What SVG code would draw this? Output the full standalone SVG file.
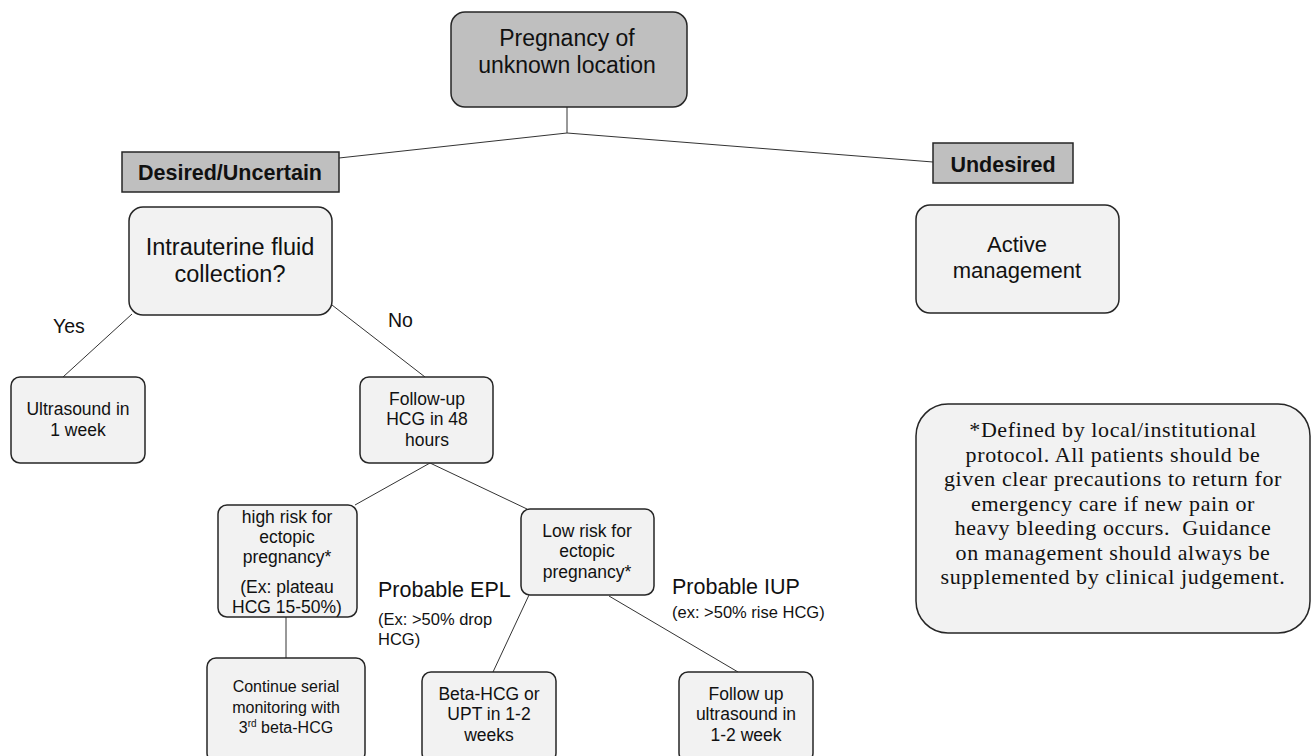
<svg xmlns="http://www.w3.org/2000/svg" width="1312" height="756" viewBox="0 0 1312 756">
<style>
.box{fill:#f2f2f2;stroke:#262626;stroke-width:1.5}
.hdr{fill:#bfbfbf;stroke:#262626;stroke-width:1.5}
.t{font-family:"Liberation Sans",Arial,sans-serif;fill:#111;text-anchor:middle}
.tl{font-family:"Liberation Sans",Arial,sans-serif;fill:#111}
.b{font-weight:bold}
.s{font-size:17.5px}
.n{font-family:"Liberation Serif","Times New Roman",serif;fill:#111;text-anchor:middle;font-size:22px;letter-spacing:0.6px}
.c{stroke:#333;stroke-width:1;fill:none}
</style>
<rect width="1312" height="756" fill="#fff"/>
<g id="connectors">
<line class="c" x1="567" y1="107" x2="567" y2="133"/>
<line class="c" x1="567" y1="133" x2="339" y2="158"/>
<line class="c" x1="567" y1="133" x2="933" y2="162"/>
<line class="c" x1="132" y1="314" x2="63" y2="377"/>
<line class="c" x1="332" y1="305" x2="425" y2="377"/>
<line class="c" x1="430" y1="463" x2="355" y2="505"/>
<line class="c" x1="430" y1="463" x2="527" y2="509"/>
<line class="c" x1="286" y1="617" x2="286" y2="658"/>
<line class="c" x1="529" y1="595" x2="493" y2="672"/>
<line class="c" x1="609" y1="596" x2="738" y2="672"/>
</g>
<g id="pul">
<rect class="hdr" x="451" y="12" width="236" height="95" rx="14"/>
<text class="t" x="567" y="46" font-size="23">Pregnancy of</text>
<text class="t" x="567" y="73" font-size="23">unknown location</text>
</g>
<g id="desired">
<rect class="hdr" x="122" y="152" width="217" height="40"/>
<text class="t b" x="230" y="180" font-size="21.5">Desired/Uncertain</text>
</g>
<g id="undesired">
<rect class="hdr" x="933" y="143" width="140" height="40"/>
<text class="t b" x="1003" y="172" font-size="21.5">Undesired</text>
</g>
<g id="active">
<rect class="box" x="916" y="205" width="203" height="108" rx="14"/>
<text class="t" x="1017" y="252" font-size="22">Active</text>
<text class="t" x="1017" y="278" font-size="22">management</text>
</g>
<g id="fluid">
<rect class="box" x="129" y="207" width="203" height="108" rx="14"/>
<text class="t" x="230" y="255" font-size="23.5">Intrauterine fluid</text>
<text class="t" x="230" y="282" font-size="23.5">collection?</text>
</g>
<text class="tl" x="53" y="333" font-size="19.5">Yes</text>
<text class="tl" x="388" y="327" font-size="19.5">No</text>
<g id="us1">
<rect class="box" x="11" y="377" width="134" height="86" rx="9"/>
<text class="t s" x="78" y="415">Ultrasound in</text>
<text class="t s" x="78" y="436">1 week</text>
</g>
<g id="followup">
<rect class="box" x="360" y="377" width="133" height="86" rx="9"/>
<text class="t s" x="427" y="405">Follow-up</text>
<text class="t s" x="427" y="425">HCG in 48</text>
<text class="t s" x="427" y="446">hours</text>
</g>
<g id="highrisk">
<rect class="box" x="218" y="505" width="139" height="112" rx="9"/>
<text class="t s" x="287" y="523">high risk for</text>
<text class="t s" x="287" y="543">ectopic</text>
<text class="t s" x="287" y="563">pregnancy*</text>
<text class="t s" x="287" y="593">(Ex: plateau</text>
<text class="t s" x="287" y="613">HCG 15-50%)</text>
</g>
<g id="lowrisk">
<rect class="box" x="521" y="509" width="133" height="86" rx="9"/>
<text class="t s" x="587" y="537">Low risk for</text>
<text class="t s" x="587" y="557">ectopic</text>
<text class="t s" x="587" y="578">pregnancy*</text>
</g>
<g id="epl">
<text class="tl" x="378" y="597" font-size="21.5">Probable EPL</text>
<text class="tl" x="378" y="625" font-size="16.5">(Ex: &gt;50% drop</text>
<text class="tl" x="378" y="645" font-size="16.5">HCG)</text>
</g>
<g id="iup">
<text class="tl" x="672" y="594" font-size="21.5">Probable IUP</text>
<text class="tl" x="672" y="618" font-size="16.5">(ex: &gt;50% rise HCG)</text>
</g>
<g id="continue">
<rect class="box" x="207" y="658" width="158" height="104" rx="9"/>
<text class="t" x="286" y="692" font-size="16">Continue serial</text>
<text class="t" x="286" y="713" font-size="16">monitoring with</text>
<text class="t" x="286" y="733" font-size="16">3<tspan font-size="10" dy="-6">rd</tspan><tspan dy="6"> beta-HCG</tspan></text>
</g>
<g id="beta">
<rect class="box" x="422" y="672" width="134" height="90" rx="9"/>
<text class="t s" x="489" y="700">Beta-HCG or</text>
<text class="t s" x="489" y="720">UPT in 1-2</text>
<text class="t s" x="489" y="741">weeks</text>
</g>
<g id="us2">
<rect class="box" x="679" y="672" width="134" height="90" rx="9"/>
<text class="t s" x="746" y="700">Follow up</text>
<text class="t s" x="746" y="720">ultrasound in</text>
<text class="t s" x="746" y="741">1-2 week</text>
</g>
<g id="note">
<rect class="box" x="916" y="404" width="394" height="229" rx="32"/>
<text class="n" x="1113" y="437">*Defined by local/institutional</text>
<text class="n" x="1113" y="461.5">protocol. All patients should be</text>
<text class="n" x="1113" y="486">given clear precautions to return for</text>
<text class="n" x="1113" y="510.5">emergency care if new pain or</text>
<text class="n" x="1113" y="535">heavy bleeding occurs.&#160; Guidance</text>
<text class="n" x="1113" y="559.5">on management should always be</text>
<text class="n" x="1113" y="584">supplemented by clinical judgement.</text>
</g>
</svg>
